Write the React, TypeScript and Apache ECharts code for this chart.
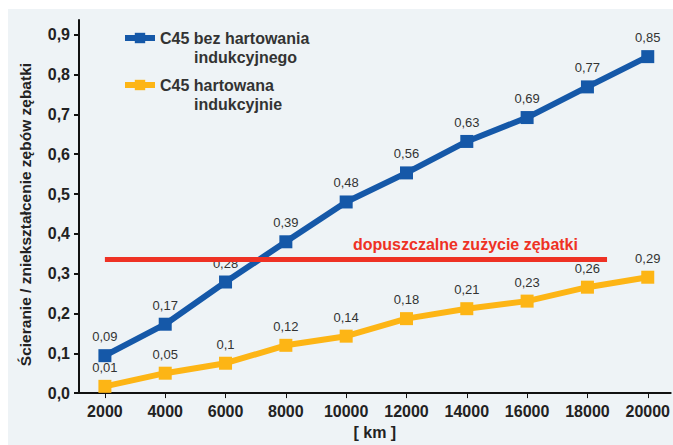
import React, { useEffect, useRef } from "react";
import * as echarts from "echarts";

const kmTicks = [2000, 4000, 6000, 8000, 10000, 12000, 14000, 16000, 18000, 20000];
const yTicks = [0, 0.1, 0.2, 0.3, 0.4, 0.5, 0.6, 0.7, 0.8, 0.9];

const seriesNames = ["C45 bez hartowania", "C45 hartowana"];
const seriesSecondLine = ["indukcyjnego", "indukcyjnie"];

const bezValues = [0.094, 0.173, 0.279, 0.38, 0.48, 0.553, 0.632, 0.692, 0.769, 0.845];
const bezLabels = ["0,09", "0,17", "0,28", "0,39", "0,48", "0,56", "0,63", "0,69", "0,77", "0,85"];

const hartValues = [0.017, 0.05, 0.075, 0.12, 0.143, 0.187, 0.212, 0.231, 0.266, 0.291];
const hartLabels = ["0,01", "0,05", "0,1", "0,12", "0,14", "0,18", "0,21", "0,23", "0,26", "0,29"];

const limitValue = 0.337;
const limitStart = 2000;
const limitEnd = 18650;
const limitText = "dopuszczalne zużycie zębatki";

const BLUE = "#1558a8";
const ORANGE = "#fdb515";
const RED = "#ee3124";
const FONT = "'Liberation Sans', Arial, sans-serif";

export default function App() {
  const ref = useRef<HTMLDivElement>(null);
  useEffect(() => {
    if (!ref.current) return;
    const chart = echarts.init(ref.current, null, { renderer: "svg" });
    const mkLegend = (i: number, top: number, color: string) => ({
      data: [seriesNames[i]],
      left: 122,
      top,
      padding: 0,
      itemWidth: 30,
      itemHeight: 13,
      lineStyle: { width: 6, color },
      itemStyle: { color },
      formatter: (n: string) => `{a|${n}}\n{b|${seriesSecondLine[i]}}`,
      textStyle: {
        padding: [19, 0, 0, 0],
        rich: {
          a: { fontFamily: FONT, fontSize: 16, fontWeight: "bold", color: "#333", lineHeight: 19 },
          b: { fontFamily: FONT, fontSize: 16, fontWeight: "bold", color: "#333", lineHeight: 19, padding: [0, 0, 0, 34] },
        },
      },
    });
    const lineSeries = (i: number, values: number[], labels: string[], color: string) => ({
      name: seriesNames[i],
      type: "line",
      data: kmTicks.map((k, j) => [k, values[j]]),
      symbol: "rect",
      symbolSize: 13,
      lineStyle: { color, width: 6 },
      itemStyle: { color },
      label: {
        show: true,
        position: "top",
        distance: 6,
        fontFamily: FONT,
        fontSize: 13,
        color: "#333",
        formatter: (p: any) => labels[p.dataIndex],
      },
    });
    chart.setOption({
      animation: false,
      backgroundColor: "#ffffff",
      graphic: [
        { type: "rect", z: -10, shape: { x: 8, y: 9, width: 665, height: 436 }, style: { fill: "#eef3f6" }, silent: true },
        {
          type: "text",
          left: 353,
          top: 236,
          style: { text: limitText, fill: RED, font: `bold 16px ${FONT}` },
        },
      ],
      legend: [mkLegend(0, 30, BLUE), mkLegend(1, 77, ORANGE)],
      grid: { left: 79, right: 0, top: 20, bottom: 48 },
      xAxis: {
        type: "value",
        min: 1141,
        max: 20760,
        name: "[ km ]",
        nameLocation: "middle",
        nameGap: 30,
        nameTextStyle: { fontFamily: FONT, fontSize: 16, fontWeight: "bold", color: "#222" },
        axisLine: { lineStyle: { color: "#111", width: 2 } },
        axisTick: { show: true, customValues: kmTicks, length: 5, lineStyle: { color: "#111", width: 1 } },
        axisLabel: {
          customValues: kmTicks,
          margin: 10,
          fontFamily: FONT,
          fontSize: 16,
          fontWeight: "bold",
          color: "#222",
          formatter: (v: number) => String(v),
        },
        splitLine: { show: false },
      },
      yAxis: {
        type: "value",
        min: 0,
        max: 0.937,
        name: "Ścieranie / zniekształcenie zębów zębatki",
        nameLocation: "middle",
        nameGap: 46,
        nameTextStyle: { fontFamily: FONT, fontSize: 15.5, fontWeight: "bold", color: "#222", padding: [0, 16, 0, 0] },
        axisLine: { show: true, lineStyle: { color: "#111", width: 2 } },
        axisTick: { show: true, customValues: yTicks, length: 5, lineStyle: { color: "#111", width: 2 } },
        axisLabel: {
          customValues: yTicks,
          margin: 9,
          fontFamily: FONT,
          fontSize: 16,
          fontWeight: "bold",
          color: "#222",
          formatter: (v: number) => v.toFixed(1).replace(".", ","),
        },
        splitLine: { show: false },
      },
      series: [
        {
          ...lineSeries(1, hartValues, hartLabels, ORANGE),
        },
        {
          ...lineSeries(0, bezValues, bezLabels, BLUE),
          markLine: {
            silent: true,
            symbol: "none",
            label: { show: false },
            lineStyle: { color: RED, width: 5, type: "solid" },
            data: [[{ coord: [limitStart, limitValue] }, { coord: [limitEnd, limitValue] }]],
          },
        },
      ],
    });
    return () => chart.dispose();
  }, []);
  return <div ref={ref} style={{ position: "absolute", left: 0, top: 0, width: 673, height: 445 }} />;
}
